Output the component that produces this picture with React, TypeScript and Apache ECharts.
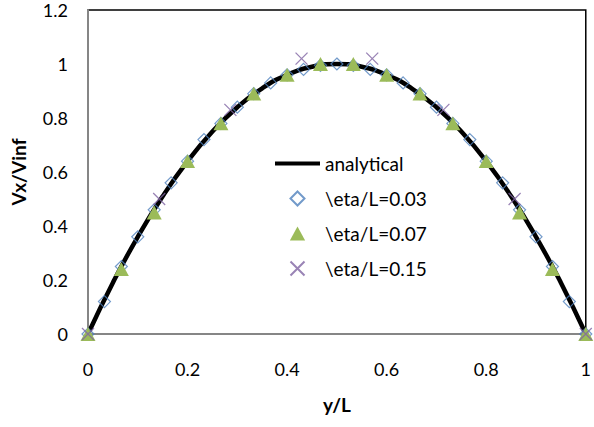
import React, { useEffect, useRef } from "react";
import * as echarts from "echarts";

const xTicks = [0, 0.2, 0.4, 0.6, 0.8, 1];

const analyticalX = [0, 0.05, 0.1, 0.15, 0.2, 0.25, 0.3, 0.35, 0.4, 0.45, 0.5, 0.55, 0.6, 0.65, 0.7, 0.75, 0.8, 0.85, 0.9, 0.95, 1];
const analyticalY = [0, 0.19, 0.36, 0.51, 0.64, 0.75, 0.84, 0.91, 0.96, 0.99, 1.0, 0.99, 0.96, 0.91, 0.84, 0.75, 0.64, 0.51, 0.36, 0.19, 0];

const eta003X = [0, 0.033, 0.067, 0.1, 0.133, 0.167, 0.2, 0.233, 0.267, 0.3, 0.333, 0.367, 0.4, 0.433, 0.467, 0.5, 0.533, 0.567, 0.6, 0.633, 0.667, 0.7, 0.733, 0.767, 0.8, 0.833, 0.867, 0.9, 0.933, 0.967, 1];
const eta003Y = [0, 0.12, 0.25, 0.36, 0.46, 0.56, 0.64, 0.72, 0.78, 0.84, 0.89, 0.93, 0.96, 0.98, 0.995, 1.0, 0.995, 0.98, 0.96, 0.93, 0.89, 0.84, 0.78, 0.72, 0.64, 0.56, 0.46, 0.36, 0.25, 0.12, 0];

const eta007X = [0, 0.067, 0.133, 0.2, 0.267, 0.333, 0.4, 0.467, 0.533, 0.6, 0.667, 0.733, 0.8, 0.867, 0.933, 1];
const eta007Y = [0, 0.24, 0.45, 0.64, 0.78, 0.89, 0.96, 1.0, 1.0, 0.96, 0.89, 0.78, 0.64, 0.45, 0.24, 0];

const eta015X = [0, 0.143, 0.286, 0.429, 0.571, 0.714, 0.857, 1];
const eta015Y = [0, 0.5, 0.83, 1.02, 1.02, 0.83, 0.5, 0];

const names = ["analytical", "\\eta/L=0.03", "\\eta/L=0.07", "\\eta/L=0.15"];

const zip = (xs: number[], ys: number[]) => xs.map((x, i) => [x, ys[i]]);

const FONT = "Lato, 'Open Sans', sans-serif";
const DIAMOND = "path://M5,0L10,5L5,10L0,5Z";
const TRIANGLE = "path://M6,0L12,11L0,11Z";
const CROSS = "path://M0,0L10,10M10,0L0,10";

export default function App() {
  const ref = useRef<HTMLDivElement>(null);
  useEffect(() => {
    if (!ref.current) return;
    const chart = echarts.init(ref.current, undefined, { renderer: "svg" });
    chart.setOption({
      animation: false,
      backgroundColor: "#fff",
      textStyle: { fontFamily: FONT },
      grid: {
        left: 88,
        right: 4,
        top: 10,
        bottom: 93,
        show: true,
        borderColor: "#000",
        borderWidth: 1.5,
        backgroundColor: "transparent",
      },
      legend: {
        orient: "vertical",
        left: 273,
        top: 154,
        padding: 0,
        itemWidth: 45,
        itemHeight: 14,
        itemGap: 16,
        data: [
          {
            name: names[0],
            itemStyle: { color: "rgba(0,0,0,0)", borderWidth: 0 },
            lineStyle: { color: "#000", width: 4 },
          },
          { name: names[1] },
          { name: names[2] },
          { name: names[3] },
        ],
        textStyle: { fontFamily: FONT, fontSize: 19, color: "#000" },
      },
      xAxis: {
        type: "value",
        min: 0,
        max: 1,
        interval: 0.2,
        name: "y/L",
        nameLocation: "middle",
        nameGap: 61,
        nameTextStyle: { fontFamily: FONT, fontSize: 19, fontWeight: "bold", color: "#000" },
        axisLine: { show: true, onZero: false, lineStyle: { color: "#868686", width: 2 } },
        axisTick: { show: false },
        splitLine: { show: false },
        axisLabel: {
          margin: 26,
          fontFamily: FONT,
          fontSize: 18,
          color: "#000",
          formatter: (v: number) => {
            const t = xTicks.find((k) => Math.abs(k - v) < 1e-6);
            return t === undefined ? "" : String(t);
          },
        },
      },
      yAxis: {
        type: "value",
        min: 0,
        max: 1.2,
        interval: 0.2,
        name: "Vx/Vinf",
        nameLocation: "middle",
        nameGap: 60,
        nameTextStyle: { fontFamily: FONT, fontSize: 19, fontWeight: "bold", color: "#000" },
        axisLine: { show: true, onZero: false, lineStyle: { color: "#868686", width: 2 } },
        axisTick: { show: false },
        splitLine: { show: false },
        axisLabel: {
          margin: 20,
          fontFamily: FONT,
          fontSize: 18,
          lineHeight: 16,
          color: "#000",
          formatter: (v: number) => String(Math.round(v * 10) / 10),
        },
      },
      series: [
        {
          name: names[0],
          type: "line",
          data: zip(analyticalX, analyticalY),
          smooth: true,
          symbol: "none",
          lineStyle: { color: "#000", width: 4.5 },
          itemStyle: { color: "#000" },
          z: 2,
        },
        {
          name: names[1],
          type: "scatter",
          data: zip(eta003X, eta003Y),
          symbol: DIAMOND,
          symbolKeepAspect: true,
          symbolSize: 12,
          itemStyle: { color: "rgba(255,255,255,0)", borderColor: "#4F81BD", borderWidth: 1.2 },
          z: 3,
        },
        {
          name: names[2],
          type: "scatter",
          data: zip(eta007X, eta007Y),
          symbol: TRIANGLE,
          symbolKeepAspect: true,
          symbolSize: 15,
          itemStyle: { color: "#9BBB59", opacity: 1 },
          z: 4,
        },
        {
          name: names[3],
          type: "scatter",
          data: zip(eta015X, eta015Y),
          symbol: CROSS,
          symbolKeepAspect: true,
          symbolSize: 12,
          itemStyle: { color: "#8064A2", borderColor: "#8064A2", borderWidth: 1.3 },
          z: 5,
        },
      ],
    });
    return () => chart.dispose();
  }, []);
  return <div ref={ref} style={{ width: 594, height: 427, position: "absolute", left: 0, top: 0 }} />;
}
